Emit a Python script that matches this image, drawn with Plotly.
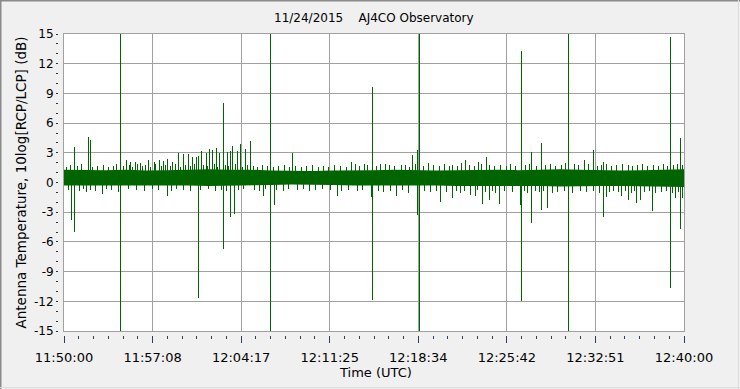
import plotly.graph_objects as go

# ---------------- data (seconds after 11:50:00 UTC, values in dB) ----------------
tick_labels = ["11:50:00", "11:57:08", "12:04:17", "12:11:25", "12:18:34", "12:25:42", "12:32:51", "12:40:00"]
span_s = 3000

# dense noise band envelope (every 100 s)
band_t = [0, 100, 200, 300, 400, 500, 600, 700, 800, 900, 1000, 1100, 1200, 1300, 1400, 1500,
          1600, 1700, 1800, 1900, 2000, 2100, 2200, 2300, 2400, 2500, 2600, 2700, 2800, 2900, 3000]
band_hi = [1.3, 1.25, 1.25, 1.3, 1.2, 1.25, 1.3, 1.35, 1.3, 1.3, 1.2, 1.15, 1.15, 1.2, 1.2, 1.25,
           1.3, 1.25, 1.2, 1.25, 1.3, 1.3, 1.25, 1.3, 1.35, 1.3, 1.25, 1.2, 1.25, 1.3, 1.35]
band_lo = [-0.3, -0.25, -0.3, -0.25, -0.25, -0.3, -0.3, -0.35, -0.3, -0.3, -0.25, -0.2, -0.2, -0.25, -0.3, -0.35,
           -0.35, -0.3, -0.3, -0.35, -0.4, -0.4, -0.35, -0.35, -0.4, -0.4, -0.35, -0.35, -0.35, -0.4, -0.45]

# upward spikes
up_t = [50.8, 118.5, 128.2, 273.4, 302.4, 321.8, 346.0, 370.2, 408.9, 437.9, 462.1, 481.5, 500.8, 525.0,
        554.0, 578.2, 602.4, 621.8, 641.1, 650.8, 665.3, 689.5, 704.0, 718.5, 737.9, 752.4, 771.8, 791.1,
        805.6, 815.3, 839.5, 854.0, 878.2, 902.4, 999.2, 1105.6, 1391.1, 1454.0, 1492.8, 1555.6, 1633.1,
        1686.3, 1710.5, 1720.2, 1865.3, 1942.7, 2005.6, 2044.4, 2141.1, 2213.7, 2262.1, 2310.5, 2441.1,
        2518.5, 2562.1, 2610.5, 2731.4, 2934.7, 2983.1]
up_v = [3.6, 4.6, 4.3, 15, 2.3, 2.1, 2.1, 2.0, 2.3, 2.1, 2.3, 2.2, 2.4, 2.1,
        3.0, 2.9, 2.9, 2.6, 2.6, 2.7, 3.2, 3.0, 3.4, 3.3, 3.5, 3.0, 8.0, 3.1,
        3.2, 3.7, 3.2, 3.9, 3.4, 4.2, 15, 3.0, 2.1, 1.9, 9.6, 1.9, 1.8,
        2.8, 3.3, 15, 1.7, 2.3, 2.1, 2.6, 1.7, 13.3, 3.1, 4.0, 15,
        2.3, 3.3, 2.1, 1.8, 14.7, 4.5]

# downward spikes
dn_t = [36.3, 50.8, 108.9, 186.3, 273.4, 500.8, 650.8, 771.8, 805.6, 825.0, 965.3, 999.2, 1018.5, 1323.4,
        1487.9, 1492.8, 1608.9, 1710.5, 1720.2, 1821.8, 1879.9, 1966.9, 1991.1, 2025.0, 2058.9, 2107.3,
        2208.9, 2213.7, 2262.1, 2310.5, 2339.5, 2441.1, 2610.5, 2625.0, 2697.6, 2731.4, 2770.2, 2789.5,
        2847.6, 2934.7, 2958.9, 2983.1, 2992.8]
dn_v = [-3.8, -5.0, -1.0, -1.2, -15, -1.4, -11.7, -6.7, -3.45, -3.2, -1.4, -15, -2.3, -1.4,
        -1.5, -11.9, -1.4, -3.3, -15, -2.0, -1.6, -1.3, -1.4, -2.2, -1.8, -2.2,
        -2.3, -12.0, -4.1, -2.8, -2.6, -15, -3.5, -1.5, -1.4, -1.8, -2.1, -1.8,
        -2.85, -10.7, -1.6, -4.7, -1.6]

# small fringe excursions of the noise band
fr_up_t = [12, 30, 65, 85, 140, 160, 190, 215, 240, 255, 290, 315, 330, 355, 380, 395, 420, 445, 470, 490,
           515, 540, 565, 590, 612, 632, 675, 695, 728, 745, 780, 798, 830, 865, 890, 915, 935, 960, 985,
           1015, 1040, 1065, 1090, 1120, 1150, 1175, 1200, 1230, 1255, 1280, 1310, 1340, 1365, 1410, 1430,
           1470, 1510, 1530, 1575, 1600, 1650, 1670, 1700, 1740, 1765, 1790, 1815, 1840, 1880, 1905, 1925,
           1960, 1985, 2020, 2060, 2085, 2110, 2160, 2185, 2235, 2250, 2285, 2330, 2355, 2380, 2405, 2425,
           2470, 2490, 2540, 2580, 2600, 2625, 2650, 2675, 2700, 2750, 2775, 2800, 2825, 2850, 2875, 2900,
           2920, 2950, 2970, 2995]
fr_up_v = [1.6, 1.8, 1.7, 1.9, 1.6, 1.7, 1.8, 1.6, 1.7, 1.9, 1.7, 1.8, 1.6, 1.9, 1.7, 1.8, 1.6, 1.9, 1.7, 1.8,
           1.7, 1.9, 1.6, 1.8, 1.7, 1.9, 1.8, 1.7, 1.9, 1.6, 1.8, 1.7, 1.9, 1.6, 1.8, 1.7, 1.6, 1.8, 1.7,
           1.6, 1.7, 1.8, 1.6, 1.7, 1.6, 1.7, 1.8, 1.6, 1.7, 1.6, 1.8, 1.7, 1.6, 1.9, 1.7,
           1.8, 1.7, 1.9, 1.8, 1.7, 1.8, 1.6, 1.9, 1.7, 2.0, 1.8, 1.7, 1.9, 1.8, 1.7, 2.0,
           1.8, 1.7, 1.9, 1.8, 1.7, 1.8, 1.9, 1.7, 1.8, 1.9, 1.7, 1.8, 1.9, 1.7, 1.8, 2.0,
           1.9, 1.8, 1.9, 1.7, 1.8, 1.9, 1.7, 1.8, 1.9, 1.7, 1.8, 1.9, 1.7, 1.8, 1.7, 1.9,
           1.7, 1.8, 1.9, 1.8]
fr_dn_t = [20, 75, 95, 130, 150, 205, 230, 265, 310, 350, 390, 430, 455, 520, 545, 580, 610, 660, 700, 735,
           760, 785, 845, 870, 920, 945, 975, 1030, 1060, 1085, 1130, 1160, 1190, 1215, 1250, 1290, 1345,
           1375, 1420, 1445, 1520, 1545, 1580, 1640, 1665, 1745, 1775, 1800, 1850, 1900, 1920, 1940, 2000,
           2040, 2075, 2090, 2130, 2170, 2230, 2245, 2280, 2300, 2320, 2365, 2390, 2420, 2460, 2500, 2530,
           2560, 2590, 2640, 2660, 2685, 2715, 2745, 2760, 2810, 2835, 2860, 2890, 2915, 2945, 2975]
fr_dn_v = [-0.8, -0.9, -0.7, -0.8, -0.9, -0.7, -0.8, -1.0, -0.7, -0.8, -0.9, -0.7, -0.8, -0.9, -0.7, -0.8,
           -0.9, -0.8, -0.7, -0.9, -0.8, -0.9, -0.8, -0.7, -0.8, -0.9, -0.7, -0.8, -0.9, -0.7, -0.8, -0.7,
           -0.9, -0.8, -0.7, -0.8, -0.9, -0.8, -0.9, -0.8, -0.9, -1.0, -0.9, -0.8, -1.1, -0.9, -1.0, -0.9,
           -1.0, -0.9, -1.1, -0.9, -0.8, -1.0, -0.9, -1.1, -0.9, -1.0, -0.9, -1.1, -0.9, -1.0, -0.9, -1.1,
           -1.0, -0.9, -1.1, -0.9, -1.0, -0.9, -1.1, -1.0, -0.9, -1.0, -0.9, -1.1, -0.9, -1.0, -0.9, -1.1,
           -1.0, -0.9, -1.1, -1.0]
baseline = 0.5

GREEN = "#006400"
W, H = 740, 389
# pixel geometry of the frame
PL, PR, PT, PB = 58, 684, 34, 335        # paper area
PLOT_L, PLOT_B = 64, 331                 # plot area corner


def px(xp):
    return (xp - PL) / (PR - PL)


def py(yp):
    return (PB - yp) / (PB - PT)


def segs(ts, vs):
    xs, ys = [], []
    for t, v in zip(ts, vs):
        xs += [t, t, None]
        ys += [baseline, v, None]
    return xs, ys


fig = go.Figure()
fig.add_trace(go.Scatter(x=band_t + band_t[::-1], y=band_hi + band_lo[::-1], fill="toself",
                         fillcolor=GREEN, line=dict(width=0), mode="lines", hoverinfo="skip"))
for ts, vs in [(fr_up_t, fr_up_v), (fr_dn_t, fr_dn_v), (up_t, up_v), (dn_t, dn_v)]:
    sx, sy = segs(ts, vs)
    fig.add_trace(go.Scatter(x=sx, y=sy, mode="lines", line=dict(color=GREEN, width=1),
                             hoverinfo="skip", connectgaps=False))
# dummy trace to create the offset tick axes
fig.add_trace(go.Scatter(x=[0], y=[None], xaxis="x2", yaxis="y2", mode="markers",
                         marker=dict(opacity=0), hoverinfo="skip"))

tickvals = [i * span_s / 7 for i in range(8)]
font = dict(family="DejaVu Sans", size=12, color="#000000")
font13 = dict(family="DejaVu Sans", size=13, color="#000000")
xdom = [px(PLOT_L), 1]
ydom = [py(PLOT_B), 1]

fig.update_layout(
    width=W, height=H, showlegend=False,
    margin=dict(l=PL, r=W - PR, t=PT, b=H - PB, pad=0),
    paper_bgcolor="#f0f0f0", plot_bgcolor="#ffffff",
    font=font,
    xaxis=dict(domain=xdom, range=[0, span_s], tickvals=tickvals, showticklabels=False, ticks="",
               showgrid=True, gridcolor="#a0a0a0", gridwidth=1, zeroline=False,
               showline=True, linecolor="#a0a0a0", linewidth=1, mirror=True, anchor="y"),
    yaxis=dict(domain=ydom, range=[-15, 15], tickvals=[-15, -12, -9, -6, -3, 0, 3, 6, 9, 12, 15],
               showticklabels=False, ticks="", showgrid=True, gridcolor="#a0a0a0", gridwidth=1,
               zeroline=False, showline=True, linecolor="#a0a0a0", linewidth=1, mirror=True, anchor="x"),
    xaxis2=dict(domain=xdom, range=[0, span_s], overlaying="x", anchor="free", position=0,
                tickmode="array", tickvals=tickvals, ticktext=tick_labels, ticks="outside",
                ticklen=7, tickwidth=1, tickcolor="#2c3e5c", showgrid=False, zeroline=False,
                showline=False, tickfont=font13, ticklabelstandoff=3,
                minor=dict(tickmode="linear", tick0=0, dtick=span_s / 42, ticks="outside",
                           ticklen=3, tickcolor="#2c3e5c", showgrid=False)),
    yaxis2=dict(domain=ydom, range=[-15, 15], overlaying="y", anchor="free", position=0,
                tickmode="array", tickvals=[-15, -12, -9, -6, -3, 0, 3, 6, 9, 12, 15],
                ticktext=["-15", "-12", "-9", "-6", "-3", "0", "3", "6", "9", "12", "15"],
                ticks="outside", ticklen=2, tickcolor="#303030", showgrid=False, zeroline=False,
                showline=False, tickfont=font,
                minor=dict(tickmode="linear", tick0=0, dtick=1, ticks="outside", ticklen=2,
                           tickcolor="#303030", showgrid=False)),
    annotations=[
        dict(text="11/24/2015\u00a0\u00a0\u00a0\u00a0AJ4CO Observatory", xref="paper", yref="paper",
             x=px(374), y=py(18), showarrow=False, font=font, xanchor="center", yanchor="middle"),
        dict(text="Time (UTC)", xref="paper", yref="paper", x=px(375), y=py(372), showarrow=False,
             font=font13, xanchor="center", yanchor="middle"),
        dict(text="Antenna Temperature, 10log[RCP/LCP] (dB)", xref="paper", yref="paper",
             x=px(20), y=py(182.5), textangle=-90, showarrow=False,
             font=dict(family="DejaVu Sans", size=13.5, color="#000000"),
             xanchor="center", yanchor="middle"),
    ],
    shapes=[
        dict(type="line", xref="paper", yref="paper", x0=px(0.5), x1=px(0.5), y0=py(0), y1=py(389),
             line=dict(color="#8a8a8a", width=2)),
        dict(type="line", xref="paper", yref="paper", x0=px(0), x1=px(740), y0=py(0.5), y1=py(0.5),
             line=dict(color="#8a8a8a", width=2)),
        dict(type="line", xref="paper", yref="paper", x0=px(738.5), x1=px(738.5), y0=py(0), y1=py(389),
             line=dict(color="#dcdcdc", width=1)),
        dict(type="line", xref="paper", yref="paper", x0=px(0), x1=px(740), y0=py(387.5), y1=py(387.5),
             line=dict(color="#dcdcdc", width=1)),
    ],
)

post = ("document.body.style.margin='0px';"
        "document.querySelectorAll('.scatterlayer path.js-line').forEach(function(p){"
        "p.style.shapeRendering='crispEdges';});")
fig.write_html("out.html", config={"displayModeBar": False}, post_script=post)
